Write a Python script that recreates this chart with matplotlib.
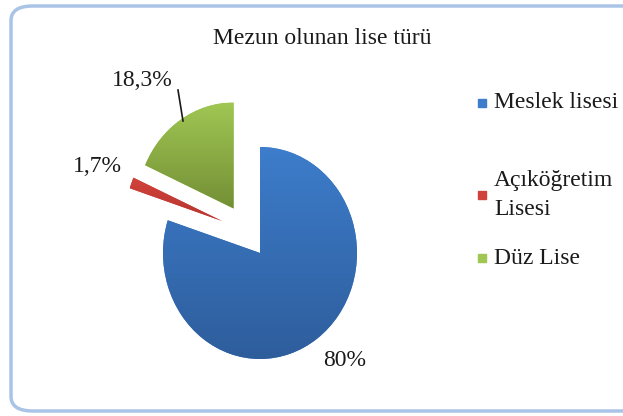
import numpy as np
import matplotlib
matplotlib.use("Agg")
import matplotlib.pyplot as plt
from matplotlib.patches import FancyBboxPatch, Rectangle

# data
categories = ["Meslek lisesi", "Açıköğretim\nLisesi", "Düz Lise"]
values = [80.0, 1.7, 18.3]
value_labels = ["80%", "1,7%", "18,3%"]
title = "Mezun olunan lise türü"

COLORS_TOP = ["#3d7dcb", "#d0433b", "#a0c653"]
COLORS_BOTTOM = ["#2e5d9c", "#b83530", "#738f35"]
EXPLODE = [0.0, 0.47, 0.5]
FONT = "Liberation Serif"
FS = 17

W, H = 623, 416
CX, CY = 260, 253      # pie centre in pixels
RX, RY = 97, 106       # pie radii in pixels (slightly squeezed)

fig = plt.figure(figsize=(W / 100, H / 100), dpi=100)
ax = fig.add_axes([0, 0, 1, 1])


def px(x, y):
    # pixel position -> data coordinates of the pie axes
    return (x - CX) / RX, (CY - y) / RY


wedges, _ = ax.pie(values, explode=EXPLODE, startangle=90, counterclock=False,
                   colors=COLORS_TOP, wedgeprops=dict(linewidth=0))
# the small slice sits a bit higher in the original than a radial explode gives
wedges[1].set_center(px(222, 221))
ax.set_aspect("auto")
x0, y1 = px(0, 0)
x1, y0 = px(W, H)
ax.set_xlim(x0, x1)
ax.set_ylim(y0, y1)
ax.axis("off")

# vertical gradient inside each wedge
for w, ct, cb in zip(wedges, COLORS_TOP, COLORS_BOTTOM):
    c1 = np.array(matplotlib.colors.to_rgb(ct))
    c2 = np.array(matplotlib.colors.to_rgb(cb))
    t = np.linspace(0, 1, 64)[:, None]
    grad = (c1 * (1 - t) + c2 * t)[:, None, :]
    bb = w.get_path().get_extents()
    im = ax.imshow(grad, extent=[bb.x0, bb.x1, bb.y0, bb.y1], aspect="auto",
                   origin="upper", zorder=w.get_zorder() + 0.1)
    im.set_clip_path(w)

# value labels
label_pos = [(345, 360), (97, 167), (142, 80)]
for lab, (lx, ly) in zip(value_labels, label_pos):
    ax.text(*px(lx, ly), lab, ha="center", va="center", fontsize=FS,
            family=FONT, color="#1a1a1a")
ax.plot(*zip(px(178, 90), px(183, 121)), color="#1a1a1a", lw=1.2)

# title
fig.text(322 / W, 1 - 38 / H, title, ha="center", va="center", fontsize=FS,
         family=FONT, color="#1a1a1a")

# legend
legend_y = [103, 195, 258]
for cat, ct, ly in zip(categories, COLORS_TOP, legend_y):
    fig.patches.append(Rectangle(((478) / W, 1 - (ly + 4) / H), 8 / W, 8 / H,
                                 transform=fig.transFigure, color=ct))
    fig.text(494 / W, 1 - ly / H, cat, ha="left", va="center", fontsize=FS,
             family=FONT, color="#1a1a1a", linespacing=1.55)

# rounded chart border
fig.patches.append(FancyBboxPatch((11 / W, 5 / H), 640 / W, 405 / H,
                                  boxstyle="round,pad=0,rounding_size=0.035",
                                  transform=fig.transFigure, fill=False,
                                  edgecolor="#a9c4e6", linewidth=2.5))

fig.savefig("out.png", dpi=100)
